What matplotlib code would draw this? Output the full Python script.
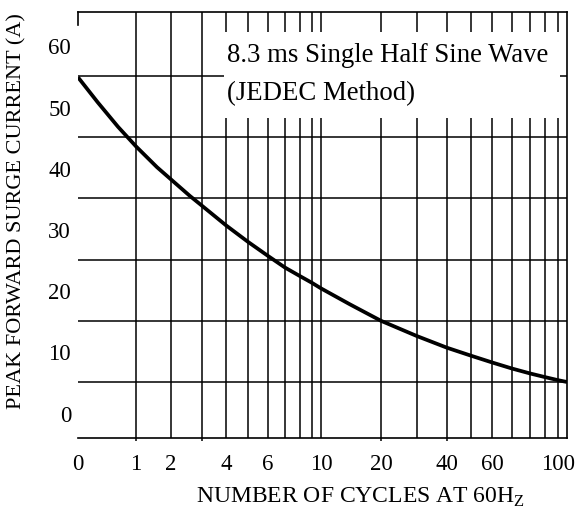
import numpy as np
import matplotlib
matplotlib.use("Agg")
import matplotlib.pyplot as plt
from matplotlib.patches import Rectangle

plt.rcParams.update({
    "font.family": ["Liberation Serif", "DejaVu Serif"],
    "mathtext.fontset": "custom",
    "mathtext.rm": "Liberation Serif",
})
INK = "black"

# the printed cycle axis is not a clean log scale, so its spacing is taken
# from the drawing: cycle count -> fraction of the axis width
SCALE_N = [0, 1, 2, 3, 4, 5, 6, 7, 8, 9, 10, 20, 30, 40, 50, 60, 70, 80, 90, 100, 107]
SCALE_PX = [78, 136, 171, 202, 226, 248, 268, 285, 300, 312, 321,
            381, 417, 447, 471, 492, 512, 530, 545, 558, 567]
SCALE_POS = [(p - SCALE_PX[0]) / (SCALE_PX[-1] - SCALE_PX[0]) for p in SCALE_PX]

# surge curve
CYCLES = [0, 0.34, 0.69, 1, 1.6, 2, 2.61, 3, 4, 5, 6, 7, 8, 9, 10, 14.8,
          20, 30, 40, 50, 60, 70, 80, 90, 100, 107]
CURRENT = [54.8, 50.7, 46.7, 43.5, 40.1, 38.1, 35.4, 33.8, 30.6, 27.9, 25.6,
           23.7, 22.3, 21.2, 20.3, 17.7, 15.0, 12.5, 10.6, 9.3, 8.2, 7.2,
           6.4, 5.8, 5.3, 5.0]

GRID_N = [1, 2, 3, 4, 5, 6, 7, 8, 9, 10, 20, 30, 40, 50, 60, 70, 80, 90, 100]
GRID_A = [5, 15, 25, 35, 45, 55]
XTICKS = [0, 1, 2, 4, 6, 10, 20, 40, 60, 100]
XLABELS = ["0", "1", "2", "4", "6", "10", "20", "40", "60", "100"]
YTICKS = [0, 10, 20, 30, 40, 50, 60]
MARK_N = [1, 3, 20, 40]      # the few small ticks under the frame


def fwd(n):
    return np.interp(n, SCALE_N, SCALE_POS)


def inv(u):
    return np.interp(u, SCALE_POS, SCALE_N)


fig = plt.figure(figsize=(5.8, 5.1), dpi=100)
ax = fig.add_axes([78 / 580, 71 / 510, 489 / 580, 426 / 510])
ax.set_xscale("function", functions=(fwd, inv))
ax.set_xlim(0, 107)
ax.set_ylim(-4.15, 65.46)

ax.xaxis.remove_overlapping_locs = False
ax.set_xticks(XTICKS, XLABELS)
ax.set_xticks(GRID_N, minor=True)
ax.set_yticks(YTICKS)
ax.set_yticks(GRID_A, minor=True)
ax.tick_params(which="both", length=0)
ax.tick_params(axis="x", labelsize=16.5, pad=11)
ax.tick_params(axis="y", labelsize=16.5, pad=5)
ax.grid(which="minor", color=INK, lw=1.1)
ax.grid(which="major", visible=False)

ax.spines["left"].set_visible(False)
for s in ("top", "right", "bottom"):
    ax.spines[s].set_linewidth(1.2)
ax.plot([0, 0], [1 - 13 / 426, 1], transform=ax.transAxes, color=INK, lw=1.2,
        clip_on=False)
ax.vlines(MARK_N, 0, -0.008, transform=ax.get_xaxis_transform(), color=INK,
          lw=1.1, clip_on=False)

ax.plot(CYCLES, CURRENT, color=INK, lw=2.7, solid_capstyle="butt", zorder=4)

ax.add_patch(Rectangle((0.2986, 0.751), 0.6871, 0.202, transform=ax.transAxes,
                       facecolor="white", edgecolor="none", zorder=3))
ax.text(0.3047, 0.885, "8.3 ms Single Half Sine Wave", transform=ax.transAxes,
        fontsize=19.3, va="baseline", zorder=5)
ax.text(0.3047, 0.796, "(JEDEC Method)", transform=ax.transAxes,
        fontsize=19.3, va="baseline", zorder=5)

fig.text(361 / 580, 1 - 497 / 510, r"NUMBER OF CYCLES AT 60H$_\mathregular{Z}$",
         ha="center", va="center", fontsize=17)
fig.text(17 / 580, 1 - 211 / 510, "PEAK FORWARD SURGE CURRENT (A)",
         rotation=90, ha="center", va="center", fontsize=16)

fig.savefig("out.png", dpi=100)
